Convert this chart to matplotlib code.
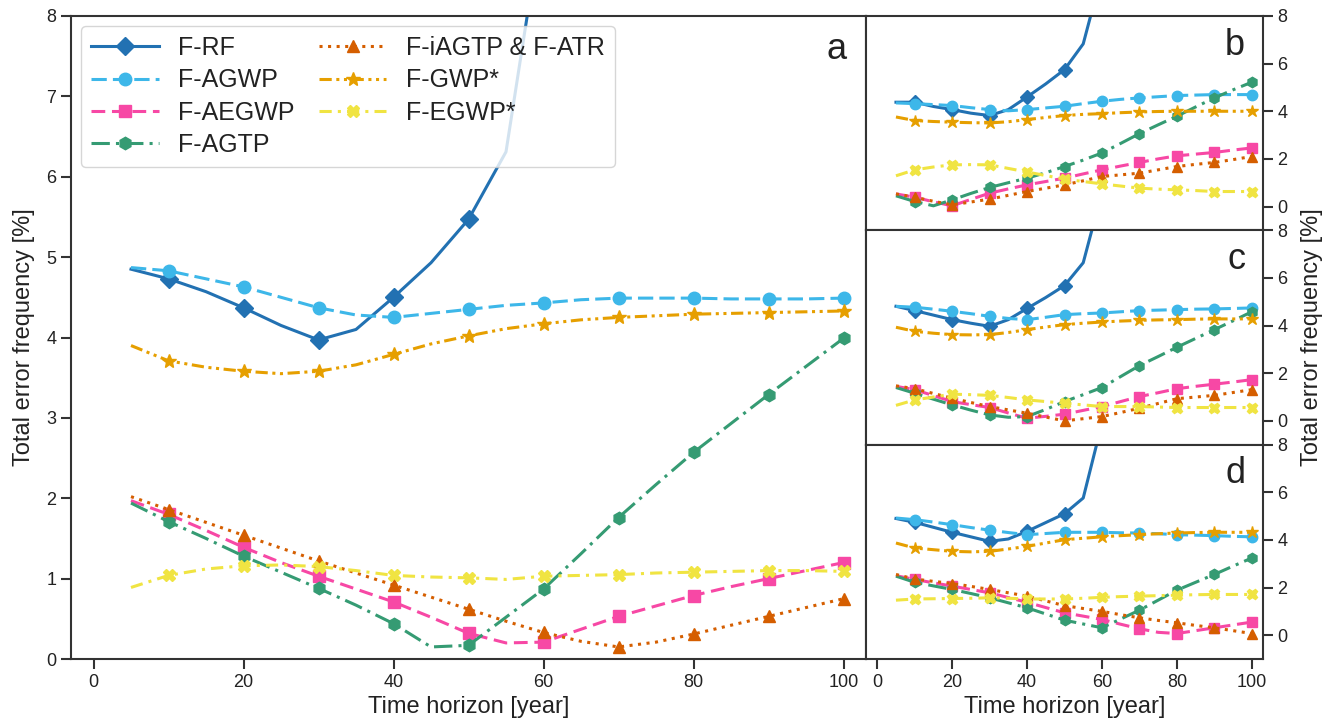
import matplotlib
matplotlib.use("Agg")
import matplotlib.pyplot as plt

plt.rcParams['font.family'] = ['Liberation Sans', 'DejaVu Sans']

years = [5, 10, 15, 20, 25, 30, 35, 40, 45, 50, 55, 60, 65, 70, 75, 80, 85, 90, 95, 100]
labels = ['F-RF', 'F-AGWP', 'F-AEGWP', 'F-AGTP', 'F-iAGTP & F-ATR', 'F-GWP*', 'F-EGWP*']

# panel a
rf_a = [4.85, 4.73, 4.57, 4.37, 4.15, 3.97, 4.10, 4.50, 4.93, 5.47, 6.31, 9.3, 12.5, 15.8, 19, 22, 25, 28, 31, 34]
agwp_a = [4.87, 4.83, 4.73, 4.63, 4.50, 4.37, 4.28, 4.25, 4.30, 4.35, 4.40, 4.43, 4.47, 4.49, 4.49, 4.49, 4.48, 4.48, 4.48, 4.49]
aegwp_a = [1.97, 1.80, 1.60, 1.39, 1.20, 1.03, 0.87, 0.71, 0.52, 0.32, 0.20, 0.21, 0.37, 0.53, 0.66, 0.79, 0.90, 1.00, 1.10, 1.20]
agtp_a = [1.94, 1.71, 1.50, 1.28, 1.08, 0.88, 0.67, 0.44, 0.15, 0.17, 0.52, 0.87, 1.31, 1.76, 2.17, 2.57, 2.93, 3.29, 3.64, 3.99]
iagtp_a = [2.02, 1.86, 1.70, 1.54, 1.38, 1.22, 1.07, 0.92, 0.77, 0.62, 0.47, 0.33, 0.22, 0.15, 0.21, 0.31, 0.42, 0.53, 0.64, 0.75]
gwp_a = [3.90, 3.71, 3.63, 3.58, 3.55, 3.58, 3.66, 3.79, 3.92, 4.02, 4.11, 4.17, 4.22, 4.25, 4.27, 4.29, 4.30, 4.31, 4.32, 4.33]
egwp_a = [0.89, 1.04, 1.12, 1.16, 1.17, 1.15, 1.10, 1.04, 1.02, 1.01, 0.99, 1.03, 1.04, 1.05, 1.07, 1.08, 1.09, 1.10, 1.10, 1.09]

# panel b
rf_b = [4.38, 4.38, 4.20, 4.07, 3.92, 3.82, 4.07, 4.60, 5.15, 5.75, 6.83, 9.8, 13, 16, 19, 22, 25, 28, 31, 34]
agwp_b = [4.35, 4.32, 4.28, 4.24, 4.15, 4.07, 4.02, 4.07, 4.14, 4.21, 4.32, 4.42, 4.50, 4.56, 4.61, 4.66, 4.68, 4.70, 4.70, 4.70]
aegwp_b = [0.53, 0.39, 0.20, 0.03, 0.30, 0.56, 0.74, 0.91, 1.05, 1.19, 1.37, 1.54, 1.70, 1.85, 2.00, 2.13, 2.20, 2.27, 2.37, 2.46]
agtp_b = [0.45, 0.21, 0.03, 0.28, 0.55, 0.80, 1.00, 1.19, 1.42, 1.68, 1.95, 2.25, 2.65, 3.06, 3.43, 3.79, 4.18, 4.56, 4.90, 5.22]
iagtp_b = [0.53, 0.39, 0.22, 0.07, 0.19, 0.31, 0.47, 0.63, 0.77, 0.91, 1.08, 1.26, 1.33, 1.40, 1.54, 1.68, 1.77, 1.85, 1.97, 2.10]
gwp_b = [3.76, 3.61, 3.57, 3.54, 3.52, 3.51, 3.56, 3.65, 3.74, 3.82, 3.87, 3.90, 3.94, 3.97, 3.99, 4.00, 4.00, 4.00, 4.00, 4.00]
egwp_b = [1.29, 1.54, 1.66, 1.75, 1.76, 1.75, 1.60, 1.45, 1.30, 1.15, 1.05, 0.95, 0.86, 0.77, 0.73, 0.70, 0.67, 0.63, 0.63, 0.63]

# panel c
rf_c = [4.81, 4.63, 4.44, 4.25, 4.10, 3.97, 4.25, 4.72, 5.18, 5.68, 6.64, 9.6, 12.5, 15.5, 18.5, 21.5, 24.5, 27.5, 30.5, 33.5]
agwp_c = [4.81, 4.77, 4.69, 4.60, 4.50, 4.39, 4.30, 4.25, 4.35, 4.46, 4.50, 4.53, 4.58, 4.63, 4.65, 4.67, 4.69, 4.70, 4.72, 4.74]
aegwp_c = [1.45, 1.31, 1.06, 0.81, 0.68, 0.56, 0.33, 0.11, 0.19, 0.28, 0.44, 0.60, 0.81, 1.02, 1.18, 1.35, 1.45, 1.54, 1.63, 1.73]
agtp_c = [1.40, 1.16, 0.91, 0.67, 0.45, 0.25, 0.15, 0.18, 0.48, 0.81, 1.10, 1.40, 1.86, 2.32, 2.70, 3.09, 3.46, 3.83, 4.20, 4.58]
iagtp_c = [1.47, 1.35, 1.15, 0.95, 0.77, 0.60, 0.46, 0.32, 0.16, 0.00, 0.09, 0.18, 0.35, 0.53, 0.73, 0.93, 1.00, 1.07, 1.19, 1.31]
gwp_c = [3.93, 3.76, 3.68, 3.62, 3.61, 3.62, 3.71, 3.83, 3.94, 4.04, 4.10, 4.15, 4.19, 4.22, 4.24, 4.25, 4.27, 4.28, 4.28, 4.28]
egwp_c = [0.65, 0.88, 1.00, 1.12, 1.10, 1.07, 0.98, 0.88, 0.81, 0.74, 0.67, 0.60, 0.60, 0.60, 0.58, 0.56, 0.56, 0.56, 0.56, 0.56]

# panel d
rf_d = [4.90, 4.74, 4.53, 4.32, 4.13, 3.94, 4.04, 4.36, 4.73, 5.10, 5.76, 8.9, 12, 15, 18, 21, 24, 27, 30, 33]
agwp_d = [4.92, 4.85, 4.75, 4.64, 4.52, 4.41, 4.31, 4.22, 4.27, 4.32, 4.32, 4.32, 4.30, 4.29, 4.26, 4.22, 4.20, 4.18, 4.15, 4.13]
aegwp_d = [2.50, 2.34, 2.20, 2.06, 1.92, 1.78, 1.58, 1.38, 1.16, 0.94, 0.80, 0.66, 0.46, 0.27, 0.12, 0.07, 0.19, 0.31, 0.43, 0.55]
agtp_d = [2.48, 2.22, 2.07, 1.92, 1.75, 1.57, 1.36, 1.15, 0.89, 0.63, 0.47, 0.31, 0.68, 1.05, 1.47, 1.89, 2.22, 2.55, 2.90, 3.24]
iagtp_d = [2.55, 2.36, 2.26, 2.17, 2.05, 1.92, 1.78, 1.64, 1.44, 1.24, 1.12, 1.00, 0.86, 0.73, 0.62, 0.52, 0.41, 0.31, 0.19, 0.07]
gwp_d = [3.87, 3.66, 3.59, 3.52, 3.50, 3.52, 3.62, 3.73, 3.87, 4.01, 4.07, 4.13, 4.18, 4.22, 4.26, 4.29, 4.31, 4.32, 4.32, 4.32]
egwp_d = [1.47, 1.52, 1.53, 1.54, 1.55, 1.57, 1.55, 1.52, 1.52, 1.52, 1.55, 1.59, 1.62, 1.64, 1.66, 1.68, 1.70, 1.71, 1.71, 1.71]

colors = ['#2271B2', '#3DB7E9', '#F748A5', '#359B73', '#D55E00', '#E69F00', '#F0E442']
markers = ['D', 'o', 's', 'h', '^', '*', 'X']
styles = ['-', (0, (5, 2)), (0, (4.5, 2.2)), (0, (6, 2, 1, 2)), (0, (1, 1.8)),
          (0, (4, 1.5, 1, 1.5, 1, 1.5)), (0, (4, 2, 1, 2))]

panels = {
    'a': [rf_a, agwp_a, aegwp_a, agtp_a, iagtp_a, gwp_a, egwp_a],
    'b': [rf_b, agwp_b, aegwp_b, agtp_b, iagtp_b, gwp_b, egwp_b],
    'c': [rf_c, agwp_c, aegwp_c, agtp_c, iagtp_c, gwp_c, egwp_c],
    'd': [rf_d, agwp_d, aegwp_d, agtp_d, iagtp_d, gwp_d, egwp_d],
}

spine_col = '#333333'
txt_col = '#222222'


def style_axis(ax):
    for s in ax.spines.values():
        s.set_color(spine_col)
        s.set_linewidth(1.5)
    ax.tick_params(length=7, width=1.5, color=spine_col, labelsize=13, labelcolor=txt_col)


def draw(ax, series, ms):
    for vals, lab, c, m, ls in zip(series, labels, colors, markers, styles):
        mss = ms * 1.15 if m == '*' else ms
        ax.plot(years, vals, color=c, marker=m, ls=ls, lw=2.2, ms=mss,
                markevery=slice(1, None, 2), label=lab)


fig = plt.figure(figsize=(13.36, 7.27), dpi=100)
W, H = 1336.0, 727.0

ax_a = fig.add_axes([71 / W, 1 - 659 / H, 795 / W, 643 / H])
draw(ax_a, panels['a'], 9)
ax_a.set_xlim(-3, 103)
ax_a.set_ylim(0, 8)
ax_a.set_xticks([0, 20, 40, 60, 80, 100])
ax_a.set_yticks(range(9))
style_axis(ax_a)
ax_a.set_xlabel('Time horizon [year]', fontsize=17, color=txt_col, labelpad=4)
ax_a.set_ylabel('Total error frequency [%]', fontsize=17, color=txt_col, labelpad=8)
ax_a.text(0.975, 0.975, 'a', transform=ax_a.transAxes, ha='right', va='top',
          fontsize=26, color=txt_col)
ax_a.legend(loc='upper left', ncol=2, fontsize=18, handlelength=2.7,
            columnspacing=0.95, labelspacing=0.33, borderaxespad=0.4,
            frameon=True, fancybox=True, framealpha=0.8,
            edgecolor='#cccccc', labelcolor=txt_col)

ph = 643 / 3.0
right_axes = []
for i, key in enumerate(['b', 'c', 'd']):
    top = 16 + i * ph
    ax = fig.add_axes([866 / W, 1 - (top + ph) / H, 397 / W, ph / H])
    draw(ax, panels[key], 7.5)
    ax.set_xlim(-3, 103)
    ax.set_ylim(-1, 8)
    ax.set_yticks([0, 2, 4, 6, 8])
    ax.yaxis.tick_right()
    ax.set_xticks([0, 20, 40, 60, 80, 100])
    style_axis(ax)
    if key != 'd':
        ax.tick_params(axis='x', bottom=False, labelbottom=False)
    ax.text(0.955, 0.945, key, transform=ax.transAxes, ha='right', va='top',
            fontsize=26, color=txt_col)
    right_axes.append(ax)

right_axes[-1].set_xlabel('Time horizon [year]', fontsize=17, color=txt_col, labelpad=4)
fig.text(1312 / W, 1 - 337.5 / H, 'Total error frequency [%]', rotation=90,
         ha='center', va='center', fontsize=17, color=txt_col)

fig.savefig('out.png', dpi=100)
